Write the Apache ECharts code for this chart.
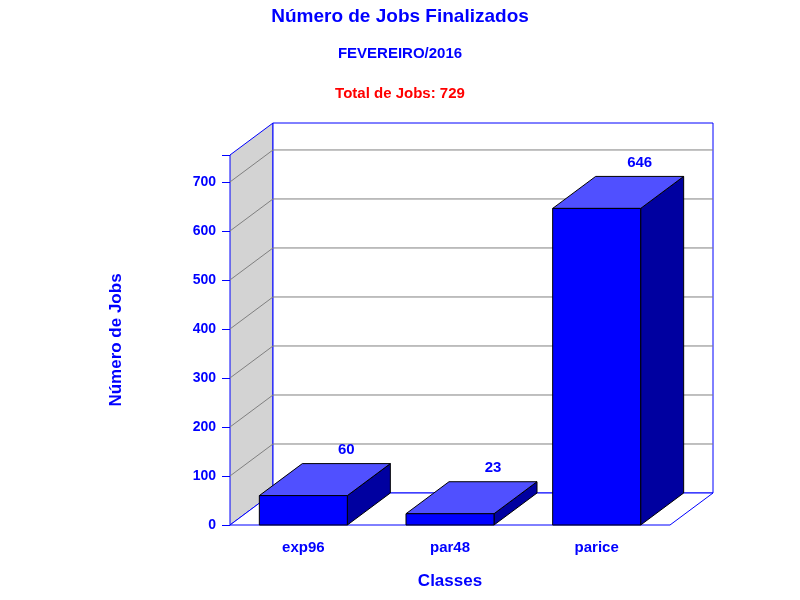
<!DOCTYPE html>
<html><head><meta charset="utf-8">
<script src="https://cdn.jsdelivr.net/npm/echarts@6/dist/echarts.min.js"></script>
<style>html,body{margin:0;background:#fff}#c{width:800px;height:600px}</style>
</head><body><div id="c"></div>
<script>
const categories = ['exp96', 'par48', 'parice'];
const values = [60, 23, 646];
const yTicks = [0, 100, 200, 300, 400, 500, 600, 700];
const YMAX = 755;
const DX = 43, DY = -32;
const F = 'Liberation Sans, Arial, sans-serif';
const chart = echarts.init(document.getElementById('c'));
chart.setOption({
  backgroundColor: '#fff',
  animation: false,
  title: [
    {text: 'Número de Jobs Finalizados', left: 'center', top: 2, textStyle: {color: '#0000ff', fontSize: 19, fontWeight: 'bold', fontFamily: F}},
    {text: 'FEVEREIRO/2016', left: 'center', top: 41, textStyle: {color: '#0000ff', fontSize: 15, fontWeight: 'bold', fontFamily: F}},
    {text: 'Total de Jobs: 729', left: 'center', top: 81, textStyle: {color: '#ff0000', fontSize: 15, fontWeight: 'bold', fontFamily: F}}
  ],
  grid: {left: 230, right: 130, top: 155, bottom: 75},
  xAxis: {type: 'category', data: categories, axisLine: {show: false}, axisTick: {show: false},
    axisLabel: {color: '#0000ff', fontSize: 15, fontWeight: 'bold', fontFamily: F, margin: 15},
    name: 'Classes', nameLocation: 'middle', nameGap: 48,
    nameTextStyle: {color: '#0000ff', fontSize: 17, fontWeight: 'bold', fontFamily: F}},
  yAxis: {type: 'value', min: 0, max: YMAX, interval: 100, splitLine: {show: false},
    axisLine: {show: false}, axisTick: {show: true, length: 8, lineStyle: {color: '#0000ff'}},
    axisLabel: {color: '#0000ff', fontSize: 14, fontWeight: 'bold', fontFamily: F, margin: 14,
      formatter: v => yTicks.includes(v) ? String(v) : ''},
    name: 'Número de Jobs', nameLocation: 'middle', nameGap: 105, nameRotate: 90,
    nameTextStyle: {color: '#0000ff', fontSize: 17, fontWeight: 'bold', fontFamily: F}},
  series: [
    {type: 'custom', data: [[0, 0]], z: 1, silent: true,
      renderItem: function (params, api) {
        const cs = params.coordSys;
        const x0 = cs.x, x1 = cs.x + cs.width, yb = cs.y + cs.height, yt = cs.y;
        const ch = [];
        ch.push({type: 'polygon', shape: {points: [[x0, yb], [x0 + DX, yb + DY], [x0 + DX, yt + DY], [x0, yt]]},
          style: {fill: '#d3d3d3', stroke: '#0000ff', lineWidth: 1}});
        ch.push({type: 'rect', shape: {x: x0 + DX, y: yt + DY, width: cs.width, height: cs.height},
          style: {fill: '#fff', stroke: '#0000ff', lineWidth: 1}});
        ch.push({type: 'polygon', shape: {points: [[x0, yb], [x1, yb], [x1 + DX, yb + DY], [x0 + DX, yb + DY]]},
          style: {fill: '#fff', stroke: '#0000ff', lineWidth: 1}});
        yTicks.forEach(v => {
          if (v === 0) return;
          const y = api.coord([0, v])[1];
          ch.push({type: 'polyline', shape: {points: [[x0, y], [x0 + DX, y + DY], [x1 + DX, y + DY]]},
            style: {stroke: '#808080', lineWidth: 1, fill: null}});
        });
        return {type: 'group', children: ch};
      }},
    {type: 'custom', data: values.map((v, i) => [i, v]), z: 2, encode: {x: 0, y: 1},
      renderItem: function (params, api) {
        const i = api.value(0), v = api.value(1);
        const top = api.coord([i, v]), base = api.coord([i, 0]);
        const w = api.size([1, 0])[0] * 0.6;
        const l = top[0] - w / 2, r = top[0] + w / 2, t = top[1], b = base[1];
        return {type: 'group', children: [
          {type: 'polygon', shape: {points: [[r, b], [r + DX, b + DY], [r + DX, t + DY], [r, t]]},
            style: {fill: '#0000a0', stroke: '#000000', lineWidth: 1}},
          {type: 'polygon', shape: {points: [[l, t], [r, t], [r + DX, t + DY], [l + DX, t + DY]]},
            style: {fill: '#5050ff', stroke: '#000000', lineWidth: 1}},
          {type: 'rect', shape: {x: l, y: t, width: w, height: b - t},
            style: {fill: '#0000ff', stroke: '#000000', lineWidth: 1}},
          {type: 'text', x: top[0] + DX, y: t + DY - 14,
            style: {text: String(v), fill: '#0000ff', font: 'bold 15px ' + F, align: 'center', verticalAlign: 'middle'}}
        ]};
      }}
  ]
});
</script></body></html>
